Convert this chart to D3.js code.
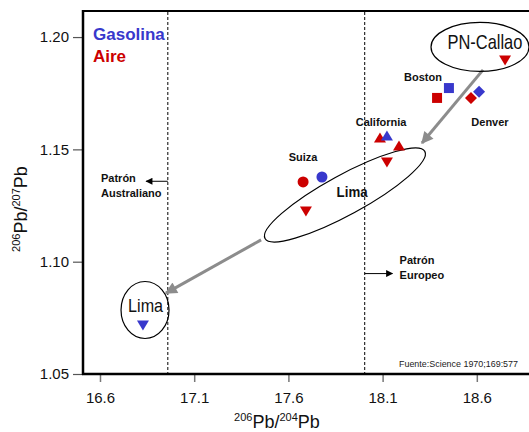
<!DOCTYPE html>
<html>
<head>
<meta charset="utf-8">
<script src="https://cdn.jsdelivr.net/npm/d3@7"></script>
<style>
html,body{margin:0;padding:0;background:#fff;}
svg{display:block;font-family:"Liberation Sans",Arial,sans-serif;}
</style>
</head>
<body>
<svg id="chart" width="529" height="432"></svg>
<script>
// ---- data ----
const xTicks = [16.6, 17.1, 17.6, 18.1, 18.6];
const yTicks = [1.05, 1.10, 1.15, 1.20];
const xTickLabels = ["16.6", "17.1", "17.6", "18.1", "18.6"];
const yTickLabels = ["1.05", "1.10", "1.15", "1.20"];

const gasolinaSite  = ["Boston", "Denver", "California", "Suiza", "Lima"];
const gasolinaX     = [18.452, 18.612, 18.123, 17.778, 16.828];
const gasolinaY     = [1.1773, 1.1756, 1.1560, 1.1377, 1.0718];
const gasolinaShape = ["square", "diamond", "up", "circle", "down"];

const aireSite  = ["PN-Callao", "Boston", "Denver", "California", "California", "Lima", "Suiza", "Lima"];
const aireX     = [18.750, 18.389, 18.569, 18.086, 18.187, 18.123, 17.678, 17.693];
const aireY     = [1.1898, 1.1729, 1.1729, 1.1551, 1.1515, 1.1444, 1.1355, 1.1226];
const aireShape = ["down", "square", "diamond", "up", "up", "down", "circle", "down"];

const patternLines = [16.96, 18.005];   // Patrón Australiano / Patrón Europeo
const labelText = ["Boston", "Denver", "California", "Suiza"];
const labelX    = [18.314, 18.670, 18.092, 17.678];
const labelY    = [1.1805, 1.1604, 1.1604, 1.1448];

const blue = "#3838cc", red = "#cc0000";

// ---- layout ----
const L = 83, R = 529, T = 11, B = 374;
const x = d3.scaleLinear().domain([16.5098, 18.877]).range([L, R]);
const y = d3.scaleLinear().domain([1.05, 1.2116]).range([B, T]);

const svg = d3.select("#chart");

// defs for arrows
const defs = svg.append("defs");
defs.append("marker").attr("id", "garrow").attr("viewBox", "0 0 10 10")
  .attr("refX", 9).attr("refY", 5).attr("markerWidth", 5.2).attr("markerHeight", 4)
  .attr("markerUnits", "strokeWidth").attr("orient", "auto")
  .append("path").attr("d", "M0,0 L10,5 L0,10 z").attr("fill", "#8c8c8c");
defs.append("marker").attr("id", "barrow").attr("viewBox", "0 0 10 10")
  .attr("refX", 9).attr("refY", 5).attr("markerWidth", 8).attr("markerHeight", 7)
  .attr("markerUnits", "userSpaceOnUse").attr("orient", "auto")
  .append("path").attr("d", "M0,0 L10,5 L0,10 z").attr("fill", "#000");

// axes
const xAxis = d3.axisBottom(x).tickValues(xTicks).tickFormat((d, i) => xTickLabels[i]).tickSize(8).tickPadding(10);
const gx = svg.append("g").attr("transform", `translate(0,${B})`).call(xAxis);
gx.select(".domain").remove();
gx.selectAll(".tick line").attr("stroke", "#777").attr("stroke-width", 1.5);
gx.selectAll(".tick text").attr("font-size", 15).attr("fill", "#111").attr("font-family", "Liberation Sans, Arial, sans-serif");

const yAxis = d3.axisLeft(y).tickValues(yTicks).tickFormat((d, i) => yTickLabels[i]).tickSize(10).tickPadding(4);
const gy = svg.append("g").attr("transform", `translate(${L},0)`).call(yAxis);
gy.select(".domain").remove();
gy.selectAll(".tick line").attr("stroke", "#555").attr("stroke-width", 1.2);
gy.selectAll(".tick text").attr("font-size", 15).attr("fill", "#111").attr("font-family", "Liberation Sans, Arial, sans-serif");

// frame
svg.append("line").attr("x1", L).attr("x2", R).attr("y1", T).attr("y2", T).attr("stroke", "#000").attr("stroke-width", 2);
svg.append("line").attr("x1", L).attr("x2", L).attr("y1", T - 1).attr("y2", B + 1).attr("stroke", "#000").attr("stroke-width", 2.5);
svg.append("line").attr("x1", L - 1).attr("x2", R).attr("y1", B).attr("y2", B).attr("stroke", "#000").attr("stroke-width", 2.5);

// dashed pattern lines
svg.selectAll(".pl").data(patternLines).enter().append("line")
  .attr("x1", d => x(d)).attr("x2", d => x(d)).attr("y1", T + 1).attr("y2", B)
  .attr("stroke", "#000").attr("stroke-width", 1).attr("stroke-dasharray", "3,2");

// pattern arrows + labels
svg.append("line").attr("x1", x(patternLines[0])).attr("x2", x(16.845)).attr("y1", y(1.1358)).attr("y2", y(1.1358))
  .attr("stroke", "#000").attr("stroke-width", 1).attr("marker-end", "url(#barrow)");
svg.append("line").attr("x1", x(patternLines[1])).attr("x2", x(18.152)).attr("y1", y(1.0947)).attr("y2", y(1.0947))
  .attr("stroke", "#000").attr("stroke-width", 1).attr("marker-end", "url(#barrow)");

function boldLabel(tx, ty, lines, size, anchor) {
  const t = svg.append("text").attr("font-size", size).attr("font-weight", "bold").attr("fill", "#111")
    .attr("text-anchor", anchor || "start");
  lines.forEach((s, i) => t.append("tspan").attr("x", tx).attr("y", ty + i * 15).text(s));
  return t;
}
boldLabel(x(16.6) + 1, y(1.1358) + 1, ["Patrón", "Australiano"], 11);
boldLabel(x(18.1) + 17, y(1.0995) + 1, ["Patrón", "Europeo"], 11);

// gray trend arrows
svg.append("line").attr("x1", x(18.633)).attr("y1", y(1.1854)).attr("x2", x(18.309)).attr("y2", y(1.1528))
  .attr("stroke", "#8c8c8c").attr("stroke-width", 3).attr("marker-end", "url(#garrow)");
svg.append("line").attr("x1", x(17.455)).attr("y1", y(1.1097)).attr("x2", x(16.95)).attr("y2", y(1.086))
  .attr("stroke", "#8c8c8c").attr("stroke-width", 3).attr("marker-end", "url(#garrow)");

// ellipses
function ellipse(cxv, cyv, rx, ry, rot) {
  svg.append("ellipse").attr("cx", 0).attr("cy", 0).attr("rx", rx).attr("ry", ry)
    .attr("transform", `translate(${x(cxv)},${y(cyv)}) rotate(${rot})`)
    .attr("fill", "none").attr("stroke", "#000").attr("stroke-width", 1.2);
}
ellipse(18.617, 1.1956, 49, 24.5, 0);     // PN-Callao
ellipse(17.900, 1.1297, 91, 20, -28.6);   // Lima (middle)
ellipse(16.839, 1.0785, 24, 28.5, 0);     // Lima (bottom)

// markers
function shapePath(s) {
  switch (s) {
    case "square": return "M-5,-5H5V5H-5Z";
    case "diamond": return "M0,-6L6,0L0,6L-6,0Z";
    case "up": return "M0,-5.5L6,4.5L-6,4.5Z";
    case "down": return "M-6,-4.5L6,-4.5L0,5.5Z";
    default: return null;
  }
}
function drawSeries(xs, ys, shapes, color) {
  xs.forEach((xv, i) => {
    const s = shapes[i];
    if (s === "circle") {
      svg.append("circle").attr("cx", x(xv)).attr("cy", y(ys[i])).attr("r", 5.5).attr("fill", color);
    } else {
      svg.append("path").attr("d", shapePath(s))
        .attr("transform", `translate(${x(xv)},${y(ys[i])})`).attr("fill", color);
    }
  });
}
drawSeries(aireX, aireY, aireShape, red);
drawSeries(gasolinaX, gasolinaY, gasolinaShape, blue);

// site labels
labelText.forEach((s, i) => {
  svg.append("text").attr("x", x(labelX[i])).attr("y", y(labelY[i])).attr("text-anchor", "middle")
    .attr("font-size", 11).attr("font-weight", "bold").attr("fill", "#111").text(s);
});
svg.append("text").attr("x", x(17.938)).attr("y", y(1.1288)).attr("text-anchor", "middle")
  .attr("font-size", 14).attr("font-weight", "bold").attr("fill", "#111")
  .attr("textLength", 31).attr("lengthAdjust", "spacingAndGlyphs").text("Lima");
svg.append("text").attr("x", x(18.643)).attr("y", y(1.1947)).attr("text-anchor", "middle")
  .attr("font-size", 21).attr("fill", "#111").attr("font-family", "Liberation Sans Narrow, Liberation Sans, Arial, sans-serif")
  .attr("textLength", 75).attr("lengthAdjust", "spacingAndGlyphs").text("PN-Callao");
svg.append("text").attr("x", x(16.842)).attr("y", y(1.0776)).attr("text-anchor", "middle")
  .attr("font-size", 19).attr("fill", "#111").attr("font-family", "Liberation Sans Narrow, Liberation Sans, Arial, sans-serif")
  .attr("textLength", 35).attr("lengthAdjust", "spacingAndGlyphs").text("Lima");

// legend
svg.append("text").attr("x", 93).attr("y", 40).attr("font-size", 17).attr("font-weight", "bold")
  .attr("fill", blue).text("Gasolina");
svg.append("text").attr("x", 93).attr("y", 62).attr("font-size", 17).attr("font-weight", "bold")
  .attr("fill", red).text("Aire");

// source
svg.append("text").attr("x", 399).attr("y", 367).attr("font-size", 9.5).attr("fill", "#222")
  .attr("font-family", "Liberation Sans Narrow, Liberation Sans, Arial, sans-serif")
  .attr("textLength", 119).attr("lengthAdjust", "spacingAndGlyphs").text("Fuente:Science 1970;169:577");

// axis titles
const xt = svg.append("text").attr("x", 277).attr("y", 428).attr("text-anchor", "middle").attr("fill", "#111");
xt.append("tspan").attr("font-size", 11).attr("dy", -7).text("206");
xt.append("tspan").attr("font-size", 18).attr("dy", 7).text("Pb/");
xt.append("tspan").attr("font-size", 11).attr("dy", -7).text("204");
xt.append("tspan").attr("font-size", 18).attr("dy", 7).text("Pb");

const yt = svg.append("text").attr("transform", "translate(27,209) rotate(-90)").attr("text-anchor", "middle").attr("fill", "#111");
yt.append("tspan").attr("font-size", 11).attr("dy", -7).text("206");
yt.append("tspan").attr("font-size", 18).attr("dy", 7).text("Pb/");
yt.append("tspan").attr("font-size", 11).attr("dy", -7).text("207");
yt.append("tspan").attr("font-size", 18).attr("dy", 7).text("Pb");
</script>
</body>
</html>
